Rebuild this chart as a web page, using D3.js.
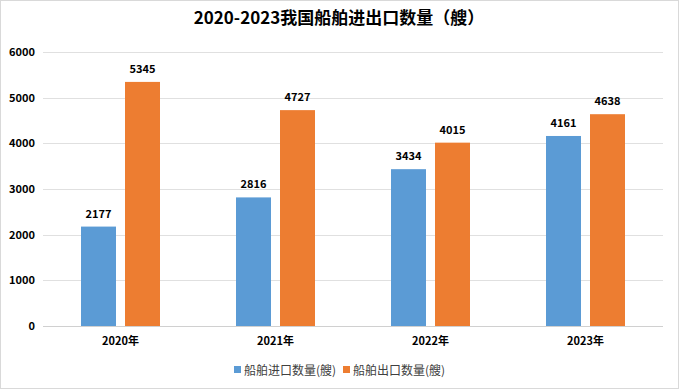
<!DOCTYPE html>
<html>
<head>
<meta charset="utf-8">
<script src="https://cdn.jsdelivr.net/npm/d3@7"></script>
<style>
  body { margin: 0; background: #fff; }
  svg { display: block; font-family: "Noto Sans CJK SC", "DejaVu Sans", sans-serif; }
</style>
</head>
<body>
<svg width="679" height="389"></svg>
<script>
const years = ['2020年', '2021年', '2022年', '2023年'];
const imports = [2177, 2816, 3434, 4161];
const exports = [5345, 4727, 4015, 4638];
const seriesNames = ['船舶进口数量(艘)', '船舶出口数量(艘)'];
const colors = ['#5B9BD5', '#ED7D31'];
const yTicks = [0, 1000, 2000, 3000, 4000, 5000, 6000];

const svg = d3.select('svg');

// outer border
svg.append('rect')
  .attr('x', 0.5).attr('y', 0.5)
  .attr('width', 678).attr('height', 388)
  .attr('fill', '#fff')
  .attr('stroke', '#d9d9d9');

svg.append('text')
  .attr('x', 339).attr('y', 24)
  .attr('text-anchor', 'middle')
  .attr('font-size', 17)
  .attr('font-weight', 'bold')
  .text('2020-2023我国船舶进出口数量（艘）');

const x = d3.scaleBand()
  .domain(years)
  .range([43, 663]);

const y = d3.scaleLinear()
  .domain([0, 6000])
  .range([326, 52]);

// gridlines
svg.selectAll('.grid')
  .data(yTicks)
  .enter()
  .append('line')
  .attr('x1', 43).attr('x2', 663)
  .attr('y1', d => Math.round(y(d)) + 0.5)
  .attr('y2', d => Math.round(y(d)) + 0.5)
  .attr('stroke', d => d == 0 ? '#d0d0d0' : '#e0e0e0');

// y tick labels
svg.selectAll('.ylab')
  .data(yTicks)
  .enter()
  .append('text')
  .attr('x', 35)
  .attr('y', d => y(d) + 4)
  .attr('text-anchor', 'end')
  .attr('font-size', 11)
  .attr('font-weight', 'bold')
  .text(d => d);

const barW = 35, gap = 9;
const data = [];
for (let i = 0; i < years.length; i++) {
  data.push({ year: years[i], s: 0, v: imports[i] });
  data.push({ year: years[i], s: 1, v: exports[i] });
}
const barX = d => x(d.year) + x.bandwidth() / 2 + (d.s == 0 ? -gap / 2 - barW : gap / 2);

svg.selectAll('.bar')
  .data(data)
  .enter()
  .append('rect')
  .attr('x', barX)
  .attr('y', d => y(d.v))
  .attr('width', barW)
  .attr('height', d => y(0) - y(d.v))
  .attr('fill', d => colors[d.s]);

svg.selectAll('.val')
  .data(data)
  .enter()
  .append('text')
  .attr('x', d => barX(d) + barW / 2)
  .attr('y', d => y(d.v) - 9)
  .attr('text-anchor', 'middle')
  .attr('font-size', 11)
  .attr('font-weight', 'bold')
  .text(d => d.v);

// x labels
svg.selectAll('.xlab')
  .data(years)
  .enter()
  .append('text')
  .attr('x', d => x(d) + x.bandwidth() / 2)
  .attr('y', 345)
  .attr('text-anchor', 'middle')
  .attr('font-size', 11)
  .attr('font-weight', 'bold')
  .text(d => d);

// legend
const legendX = [234, 343];
seriesNames.forEach((name, i) => {
  svg.append('rect')
    .attr('x', legendX[i]).attr('y', 366)
    .attr('width', 7).attr('height', 7)
    .attr('fill', colors[i]);
  svg.append('text')
    .attr('x', legendX[i] + 10).attr('y', 375)
    .attr('font-size', 12)
    .attr('fill', '#404040')
    .text(name);
});
</script>
</body>
</html>
